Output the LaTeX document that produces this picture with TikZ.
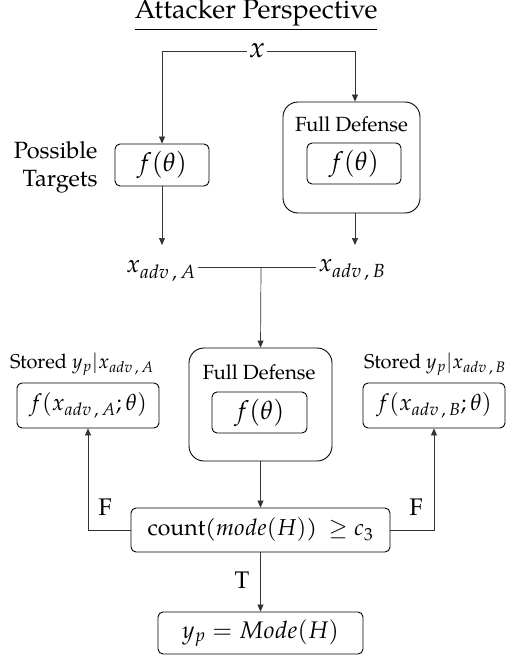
\documentclass[tikz,border=0pt]{standalone}
\usepackage{mathpazo}
\usepackage[no-math]{fontspec}
\setmainfont{TeX Gyre Pagella}
\usetikzlibrary{arrows.meta}
\newcommand{\fs}[1]{\fontsize{#1}{#1}\selectfont}
\tikzset{
  box/.style={draw, line width=0.9pt, rounded corners=5pt, inner sep=0pt},
  outerbox/.style={draw, line width=0.9pt, rounded corners=15pt, inner sep=0pt},
  conn/.style={draw=black!80, line width=0.7pt},
  arr/.style={conn, -{Triangle[length=7pt,width=6pt]}},
  lbl/.style={inner sep=1pt, font=\fs{24}},
  hdr/.style={inner sep=1pt, font=\fs{20.5}},
  mth/.style={font=\fs{26}},
}
\begin{document}
\begin{tikzpicture}[x=1pt,y=-1pt]
\useasboundingbox (0,0) rectangle (509,655);

% title
\node[font=\fs{27}] (title) at (256,15) {\underline{Attacker Perspective}};

% input
\node[inner sep=2pt, font=\fs{29}] (x) at (257,51) {$x$};

% possible targets
\node[align=right, anchor=east, font=\fontsize{23.5}{28}\selectfont] (pt) at (101,167) {Possible\\Targets};
\node[box, mth, minimum width=94pt, minimum height=42pt] (lf) at (162,165) {$f(\theta)$};
\node[outerbox, minimum width=137pt, minimum height=111pt] (fd1) at (351.5,157.5) {};
\node[hdr] (fd1t) at (351.5,124) {Full Defense};
\node[box, mth, minimum width=94pt, minimum height=41pt] (fd1f) at (354,163.5) {$f(\theta)$};

% adversarial examples
\node[inner sep=2pt, font=\fs{25}] (xa) at (161,271) {$x_{adv\,,\,A}$};
\node[inner sep=2pt, font=\fs{25}] (xb) at (352,270) {$x_{adv\,,\,B}$};
\coordinate (ta) at (162,245);
\coordinate (tb) at (355,245);
\coordinate (j) at (261,267);

% central defense
\node[outerbox, minimum width=143pt, minimum height=113pt] (fd2) at (260.5,404.5) {};
\node[hdr] (fd2t) at (259,372) {Full Defense};
\node[box, mth, minimum width=95pt, minimum height=41pt] (fd2f) at (259.5,412.5) {$f(\theta)$};

% stored predictions
\node[inner sep=1pt, font=\fs{20}] (sa) at (82,364) {Stored $y_p|x_{adv\,,\,A}$};
\node[box, font=\fs{23}, minimum width=142pt, minimum height=45pt] (fa) at (88,405.5) {$f(x_{adv\,,\,A};\theta)$};
\node[inner sep=1pt, font=\fs{20}] (sb) at (435,364) {Stored $y_p|x_{adv\,,\,B}$};
\node[box, font=\fs{23}, minimum width=142pt, minimum height=45pt] (fb) at (434,405.5) {$f(x_{adv\,,\,B};\theta)$};

% decision
\node[box, font=\fs{23}, minimum width=259pt, minimum height=44pt] (cnt) at (260.5,530) {count($mode(H)$)\ \ $\geq c_3$};
\node[box, font=\fs{24}, minimum width=205pt, minimum height=42pt] (yp) at (260.5,633) {$y_p = Mode(H)$};

% branch labels
\node[lbl] (fl) at (105,507) {F};
\node[lbl] (fr) at (416,507) {F};
\node[lbl] (tl) at (242,580) {T};

% connectors
\draw[arr] (x.west) -| (lf.north);
\draw[arr] (x.east) -| (tb |- fd1.north);
\draw[arr] (lf.south) -- (ta);
\draw[arr] (tb |- fd1.south) -- (tb);
\draw[conn] (xa.east |- j) -- (xb.west |- j);
\draw[arr] (j) -- (fd2.north);
\draw[arr] (fd2.south) -- (cnt.north);
\draw[arr] (cnt.west) -| (fa.south);
\draw[arr] (cnt.east) -| (fb.south);
\draw[arr] (cnt.south) -- (yp.north);
\end{tikzpicture}
\end{document}
